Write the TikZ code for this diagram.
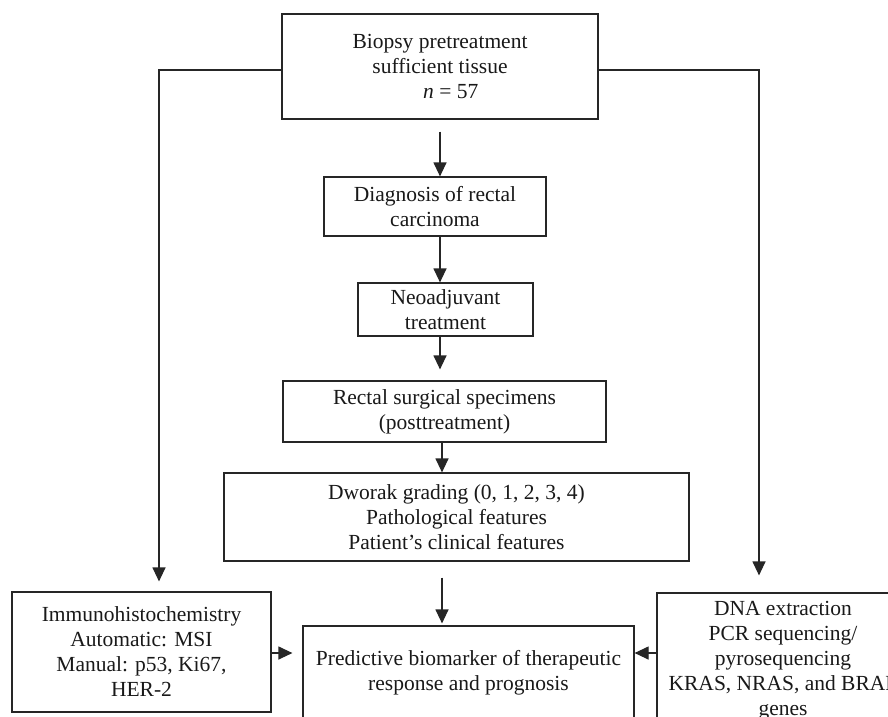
\documentclass[tikz,border=0pt]{standalone}
\usepackage{fontspec}
\setmainfont{Liberation Serif}
\usetikzlibrary{arrows.meta}
\begin{document}
\begin{tikzpicture}[x=1pt,y=-1pt,
  box/.style={draw=black!85, line width=1.2pt, inner sep=0pt, align=center,
     font=\fontsize{21.5}{25}\selectfont, text=black!90},
  arr/.style={draw=black!85, line width=1.2pt, -{Triangle[length=14pt,width=13pt]}}]
\useasboundingbox (0,0) rectangle (888,716);
\clip (0,0) rectangle (888,716);
\fill[white] (0,0) rectangle (888,716);
\node[box, minimum width=316pt, minimum height=105pt] (top) at (440,66.5)
  {Biopsy pretreatment\\ sufficient tissue\\ \hspace*{1em}\textit{n} = 57};
\node[box, minimum width=222pt, minimum height=59pt] (diag) at (435,206.5)
  {Diagnosis of rectal\\ carcinoma};
\node[box, minimum width=175pt, minimum height=53pt] (neo) at (445.5,309.5)
  {Neoadjuvant\\ treatment};
\node[box, minimum width=323pt, minimum height=61pt] (rect) at (444.5,411.5)
  {Rectal surgical specimens\\ (posttreatment)};
\node[box, minimum width=465pt, minimum height=88pt] (dw) at (456.5,517)
  {Dworak grading (0, 1, 2, 3, 4)\\ Pathological features\\ Patient’s clinical features};
\node[box, minimum width=331pt, minimum height=94pt] (pred) at (468.5,673)
  {Predictive biomarker of therapeutic\\ response and prognosis};
\node[box, minimum width=259pt, minimum height=120pt] (imm) at (141.5,652)
  {Immunohistochemistry\\ Automatic: MSI\\ Manual: p53, Ki67,\hspace*{0.8em}\\ HER-2};
\node[box, minimum width=252pt, minimum height=136pt] (dna) at (783,661)
  {DNA extraction\\ PCR sequencing/\\ pyrosequencing\\ KRAS, NRAS, and BRAF\\ genes};
\coordinate (lj) at (159,70);
\coordinate (rj) at (759,70);
\coordinate (mid) at (653,653);
\draw[arr, shorten <=12pt] (top.south) -- (top.south |- diag.north);
\draw[arr] (diag.south -| top.south) -- (neo.north -| top.south);
\draw[arr, shorten >=11pt] (neo.south -| top.south) -- (rect.north -| top.south);
\draw[arr] ([xshift=2pt]rect.south -| top.south) -- ([xshift=2pt]dw.north -| top.south);
\draw[arr, shorten <=16pt, shorten >=2pt] ([xshift=2pt]dw.south -| top.south) -- ([xshift=2pt]pred.north -| top.south);
\draw[arr, shorten >=10pt] (imm.east |- mid) -- (pred.west |- mid);
\draw[arr] (dna.west |- mid) -- (pred.east |- mid);
\draw[arr, shorten >=10pt] (top.west |- lj) -- (lj) -- (lj |- imm.north);
\draw[arr, shorten >=17pt] (top.east |- rj) -- (rj) -- (rj |- dna.north);
\end{tikzpicture}
\end{document}
